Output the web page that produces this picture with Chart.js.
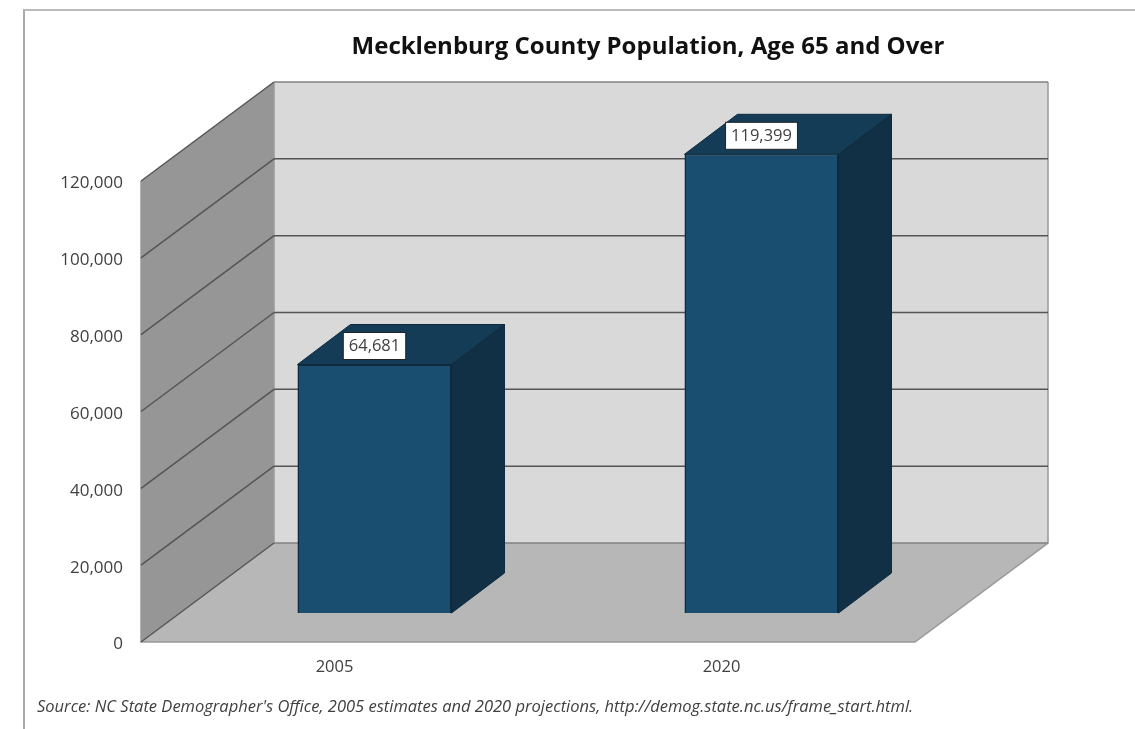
<!DOCTYPE html>
<html>
<head>
<meta charset="utf-8">
<title>Mecklenburg County Population, Age 65 and Over</title>
<script src="https://cdn.jsdelivr.net/npm/chart.js@4"></script>
<style>
    html, body { margin: 0; padding: 0; background: #fff; overflow: hidden; }
    #wrap { position: relative; width: 1135px; height: 729px; }
    #frame { position: absolute; left: 23px; top: 9px; width: 1112px; height: 720px; border-left: 2px solid #aaa; border-top: 2px solid #bbb; box-sizing: border-box; }
    canvas { position: absolute; left: 0; top: 0; filter: blur(0.4px); }
</style>
</head>
<body>
<div id="wrap">
    <div id="frame"></div>
    <canvas id="chart" width="1135" height="729"></canvas>
</div>
<script>
const chartTitle = 'Mecklenburg County Population, Age 65 and Over';
const sourceNote = "Source: NC State Demographer's Office, 2005 estimates and 2020 projections, http://demog.state.nc.us/frame_start.html.";
const years = ['2005', '2020'];
const population = [64681, 119399];
const yMax = 120000;
const yStep = 20000;

// depth of the 3D box, in pixels
const wallDx = 133, wallDy = 99;
const barDx = 53, barDy = 40;
const barShiftX = 40, barShiftY = 29;

const fontFamily = '"Open Sans", sans-serif';

function poly(ctx, pts, fill, stroke, lw) {
    ctx.beginPath();
    pts.forEach((p, i) => i ? ctx.lineTo(p[0], p[1]) : ctx.moveTo(p[0], p[1]));
    ctx.closePath();
    if (fill) { ctx.fillStyle = fill; ctx.fill(); }
    if (stroke) { ctx.strokeStyle = stroke; ctx.lineWidth = lw || 1; ctx.stroke(); }
}

const box3d = {
    id: 'box3d',
    afterLayout(chart) {
        // title sits over the plot, source note starts at the frame
        chart.titleBlock.left = 161;
        chart.titleBlock.right = 1135;
        const note = chart.boxes.find(b => b.options && b.options.text === sourceNote);
        if (note) note.left = 37;
    },
    beforeDatasetsDraw(chart) {
        const ctx = chart.ctx, y = chart.scales.y, a = chart.chartArea;
        const top = y.getPixelForValue(yMax), bot = y.getPixelForValue(0);
        ctx.save();
        // back wall
        poly(ctx, [[a.left + wallDx, top - wallDy], [a.right + wallDx, top - wallDy], [a.right + wallDx, bot - wallDy], [a.left + wallDx, bot - wallDy]], '#d9d9d9');
        // side wall
        poly(ctx, [[a.left, top], [a.left + wallDx, top - wallDy], [a.left + wallDx, bot - wallDy], [a.left, bot]], '#969696');
        // floor
        poly(ctx, [[a.left, bot], [a.left + wallDx, bot - wallDy], [a.right + wallDx, bot - wallDy], [a.right, bot]], '#b7b7b7');
        // edges
        ctx.strokeStyle = '#999';
        ctx.lineWidth = 1.5;
        ctx.beginPath();
        ctx.moveTo(a.left + wallDx, top - wallDy);
        ctx.lineTo(a.left + wallDx, bot - wallDy);
        ctx.moveTo(a.right + wallDx, top - wallDy);
        ctx.lineTo(a.right + wallDx, bot - wallDy);
        ctx.lineTo(a.right, bot);
        ctx.lineTo(a.left, bot);
        ctx.lineTo(a.left, top);
        ctx.stroke();
        // gridlines
        y.ticks.forEach(t => {
            const py = y.getPixelForValue(t.value);
            ctx.beginPath();
            ctx.moveTo(a.left, py);
            ctx.lineTo(a.left + wallDx, py - wallDy);
            ctx.strokeStyle = '#555';
            ctx.lineWidth = 1.5;
            ctx.stroke();
            ctx.beginPath();
            ctx.moveTo(a.left + wallDx, py - wallDy);
            ctx.lineTo(a.right + wallDx, py - wallDy);
            ctx.strokeStyle = (t.value === 0 || t.value === yMax) ? '#808080' : '#555';
            ctx.stroke();
        });

        // bars sit inside the box, so shift them back from the front plane
        const base = y.getPixelForValue(0);
        chart.getDatasetMeta(0).data.forEach(bar => {
            const l = bar.x - bar.width / 2 + barShiftX, r = bar.x + bar.width / 2 + barShiftX;
            const t = bar.y - barShiftY, b = base - barShiftY;
            poly(ctx, [[l, t], [l + barDx, t - barDy], [r + barDx, t - barDy], [r, t]], '#153c57', '#0e2a3e');
            poly(ctx, [[r, t], [r + barDx, t - barDy], [r + barDx, b - barDy], [r, b]], '#112f45', '#0e2a3e');
        });
        ctx.restore();
        ctx.save();
        ctx.translate(barShiftX, -barShiftY);
    },
    afterDatasetsDraw(chart) {
        chart.ctx.restore();
        const ctx = chart.ctx;
        ctx.save();
        ctx.font = '16.5px ' + fontFamily;
        ctx.textAlign = 'center';
        ctx.textBaseline = 'middle';
        chart.getDatasetMeta(0).data.forEach((bar, i) => {
            const text = population[i].toLocaleString('en-US');
            const cx = bar.x + barShiftX, cy = bar.y - barShiftY - 18.5;
            const w = ctx.measureText(text).width + 11;
            ctx.fillStyle = '#fff';
            ctx.strokeStyle = '#222';
            ctx.lineWidth = 1;
            ctx.fillRect(cx - w / 2, cy - 13.5, w, 27);
            ctx.strokeRect(cx - w / 2, cy - 13.5, w, 27);
            ctx.fillStyle = '#404040';
            ctx.fillText(text, cx, cy);
        });
        ctx.restore();
    }
};

new Chart(document.getElementById('chart'), {
    type: 'bar',
    data: {
        labels: years,
        datasets: [{
            data: population,
            backgroundColor: '#1a4e70',
            borderColor: '#0e2a3e',
            borderWidth: 1.5,
            barPercentage: 1,
            categoryPercentage: 0.398
        }]
    },
    plugins: [box3d],
    options: {
        responsive: false,
        animation: false,
        layout: { padding: { right: 220 } },
        plugins: {
            legend: { display: false },
            tooltip: { enabled: false },
            title: {
                display: true,
                text: chartTitle,
                color: '#111',
                font: { family: fontFamily, size: 24, weight: 'bold' },
                padding: { top: 33, bottom: 119.2 }
            },
            subtitle: {
                display: true,
                position: 'bottom',
                align: 'start',
                text: sourceNote,
                color: '#404040',
                font: { family: fontFamily, size: 16.5, style: 'italic' },
                padding: { top: 0, bottom: 12 }
            }
        },
        scales: {
            x: {
                grid: { display: false },
                border: { display: false },
                ticks: { color: '#404040', padding: 7, maxRotation: 0, font: { family: fontFamily, size: 16.5 } },
                afterFit(scale) { scale.height = 55.2; }
            },
            y: {
                min: 0,
                max: yMax,
                grid: { display: false },
                border: { display: false },
                ticks: {
                    stepSize: yStep,
                    color: '#404040',
                    padding: 10,
                    labelOffset: 2.5,
                    font: { family: fontFamily, size: 17 },
                    callback: v => v.toLocaleString('en-US')
                },
                afterFit(scale) { scale.width = 141; }
            }
        }
    }
});
</script>
</body>
</html>
